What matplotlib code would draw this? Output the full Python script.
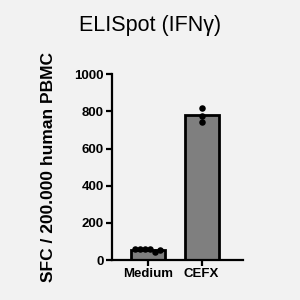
import numpy as np
import matplotlib
matplotlib.use("Agg")
from matplotlib import pyplot as plt

plt.rcParams['font.family'] = ['Liberation Sans', 'DejaVu Sans']

groups = ["Medium", "CEFX"]
medium_pts = [58, 62, 60, 57, 46, 56]
cefx_pts = [818, 775, 742]
values = [medium_pts, cefx_pts]
means = [np.mean(v) for v in values]

bg = "#f2f2f2"
fig = plt.figure(figsize=(3, 3), dpi=100, facecolor=bg)
ax = fig.add_axes([0.373, 0.133, 0.437, 0.62])
ax.set_facecolor(bg)

x = np.arange(len(groups))
ax.bar(x, means, width=0.63, color="#7f7f7f", edgecolor="black", linewidth=2.0, zorder=2)

# medium points spread across the bar, cefx points stacked at centre
jit = [np.linspace(-0.24, 0.22, len(medium_pts)), np.zeros(len(cefx_pts))]
for i, v in enumerate(values):
    ax.scatter(x[i] + jit[i], v, s=22, color="black", zorder=3, linewidths=0)

ax.set_xlim(-0.67, 1.77)
ax.set_ylim(0, 1000)
ax.set_yticks([0, 200, 400, 600, 800, 1000])
ax.set_xticks(x)
ax.set_xticklabels(groups, fontsize=9.5, fontweight="bold")
for lab in ax.get_yticklabels():
    lab.set_fontsize(9.5)
    lab.set_fontweight("bold")
for s in ["top", "right"]:
    ax.spines[s].set_visible(False)
for s in ["left", "bottom"]:
    ax.spines[s].set_linewidth(1.6)
ax.tick_params(width=1.6, length=4, pad=2)

ax.set_ylabel("SFC / 200.000 human PBMC", fontsize=12.5, fontweight="bold")
ax.yaxis.set_label_coords(-0.43, 0.5)
fig.text(0.5, 0.915, "ELISpot (IFNγ)", ha="center", va="center", fontsize=15.5)

fig.savefig("out.png", dpi=100, facecolor=bg)
